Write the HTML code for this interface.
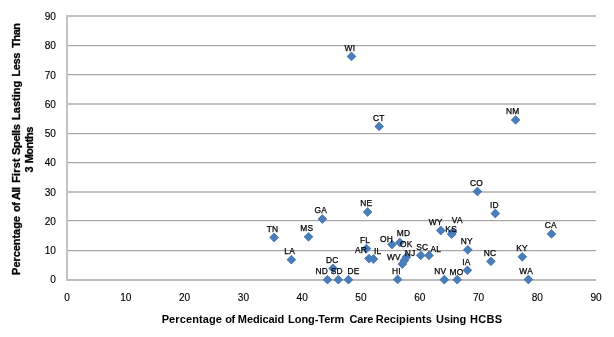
<!DOCTYPE html><html><head><meta charset="utf-8"><style>html,body{margin:0;padding:0;background:#fff;width:614px;height:337px;overflow:hidden}svg{display:block;will-change:transform;font-family:"Liberation Sans",sans-serif}</style></head><body>
<svg width="614" height="337" viewBox="0 0 614 337">
<rect x="66" y="15" width="530" height="2" fill="#c2c2c2"/>
<rect x="66" y="45" width="530" height="1" fill="#a6a6a6"/>
<rect x="66" y="46" width="530" height="1" fill="#ececec"/>
<rect x="66" y="74" width="530" height="1" fill="#a6a6a6"/>
<rect x="66" y="75" width="530" height="1" fill="#ececec"/>
<rect x="66" y="103" width="530" height="2" fill="#c2c2c2"/>
<rect x="66" y="133" width="530" height="1" fill="#a6a6a6"/>
<rect x="66" y="134" width="530" height="1" fill="#ececec"/>
<rect x="66" y="162" width="530" height="1" fill="#a6a6a6"/>
<rect x="66" y="163" width="530" height="1" fill="#ececec"/>
<rect x="66" y="191" width="530" height="2" fill="#c2c2c2"/>
<rect x="66" y="220" width="530" height="1" fill="#a6a6a6"/>
<rect x="66" y="221" width="530" height="1" fill="#ececec"/>
<rect x="66" y="250" width="530" height="1" fill="#a6a6a6"/>
<rect x="66" y="251" width="530" height="1" fill="#ececec"/>
<rect x="66" y="279" width="530" height="2" fill="#bcbcbc"/>
<rect x="66" y="15" width="2" height="266" fill="#c4c4c4"/>
<text transform="translate(55.9 283.2) scale(0.92 1)" font-size="11" text-anchor="end" fill="#000" stroke="#000" stroke-width="0.15">0</text>
<text transform="translate(55.9 253.8) scale(0.92 1)" font-size="11" text-anchor="end" fill="#000" stroke="#000" stroke-width="0.15">10</text>
<text transform="translate(55.9 225.0) scale(0.92 1)" font-size="11" text-anchor="end" fill="#000" stroke="#000" stroke-width="0.15">20</text>
<text transform="translate(55.9 195.6) scale(0.92 1)" font-size="11" text-anchor="end" fill="#000" stroke="#000" stroke-width="0.15">30</text>
<text transform="translate(55.9 166.3) scale(0.92 1)" font-size="11" text-anchor="end" fill="#000" stroke="#000" stroke-width="0.15">40</text>
<text transform="translate(55.9 136.8) scale(0.92 1)" font-size="11" text-anchor="end" fill="#000" stroke="#000" stroke-width="0.15">50</text>
<text transform="translate(55.9 107.5) scale(0.92 1)" font-size="11" text-anchor="end" fill="#000" stroke="#000" stroke-width="0.15">60</text>
<text transform="translate(55.9 79.0) scale(0.92 1)" font-size="11" text-anchor="end" fill="#000" stroke="#000" stroke-width="0.15">70</text>
<text transform="translate(55.9 49.0) scale(0.92 1)" font-size="11" text-anchor="end" fill="#000" stroke="#000" stroke-width="0.15">80</text>
<text transform="translate(55.9 19.6) scale(0.92 1)" font-size="11" text-anchor="end" fill="#000" stroke="#000" stroke-width="0.15">90</text>
<text transform="translate(67.00 301) scale(0.92 1)" font-size="11" text-anchor="middle" fill="#000" stroke="#000" stroke-width="0.15">0</text>
<text transform="translate(125.79 301) scale(0.92 1)" font-size="11" text-anchor="middle" fill="#000" stroke="#000" stroke-width="0.15">10</text>
<text transform="translate(184.58 301) scale(0.92 1)" font-size="11" text-anchor="middle" fill="#000" stroke="#000" stroke-width="0.15">20</text>
<text transform="translate(243.37 301) scale(0.92 1)" font-size="11" text-anchor="middle" fill="#000" stroke="#000" stroke-width="0.15">30</text>
<text transform="translate(302.16 301) scale(0.92 1)" font-size="11" text-anchor="middle" fill="#000" stroke="#000" stroke-width="0.15">40</text>
<text transform="translate(360.95 301) scale(0.92 1)" font-size="11" text-anchor="middle" fill="#000" stroke="#000" stroke-width="0.15">50</text>
<text transform="translate(419.74 301) scale(0.92 1)" font-size="11" text-anchor="middle" fill="#000" stroke="#000" stroke-width="0.15">60</text>
<text transform="translate(478.53 301) scale(0.92 1)" font-size="11" text-anchor="middle" fill="#000" stroke="#000" stroke-width="0.15">70</text>
<text transform="translate(537.32 301) scale(0.92 1)" font-size="11" text-anchor="middle" fill="#000" stroke="#000" stroke-width="0.15">80</text>
<text transform="translate(596.11 301) scale(0.92 1)" font-size="11" text-anchor="middle" fill="#000" stroke="#000" stroke-width="0.15">90</text>
<path d="M347.10 56.40L351.50 52.00L355.90 56.40L351.50 60.80ZM374.80 126.40L379.20 122.00L383.60 126.40L379.20 130.80ZM511.20 119.90L515.60 115.50L520.00 119.90L515.60 124.30ZM473.00 191.50L477.40 187.10L481.80 191.50L477.40 195.90ZM490.90 213.50L495.30 209.10L499.70 213.50L495.30 217.90ZM363.20 212.00L367.60 207.60L372.00 212.00L367.60 216.40ZM318.00 219.00L322.40 214.60L326.80 219.00L322.40 223.40ZM269.70 237.50L274.10 233.10L278.50 237.50L274.10 241.90ZM304.10 236.80L308.50 232.40L312.90 236.80L308.50 241.20ZM287.00 259.70L291.40 255.30L295.80 259.70L291.40 264.10ZM547.10 233.90L551.50 229.50L555.90 233.90L551.50 238.30ZM436.40 230.50L440.80 226.10L445.20 230.50L440.80 234.90ZM447.20 234.20L451.60 229.80L456.00 234.20L451.60 238.60ZM448.20 232.10L452.60 227.70L457.00 232.10L452.60 236.50ZM463.40 249.80L467.80 245.40L472.20 249.80L467.80 254.20ZM486.50 261.30L490.90 256.90L495.30 261.30L490.90 265.70ZM517.90 256.80L522.30 252.40L526.70 256.80L522.30 261.20ZM524.00 279.50L528.40 275.10L532.80 279.50L528.40 283.90ZM463.00 270.30L467.40 265.90L471.80 270.30L467.40 274.70ZM439.90 279.70L444.30 275.30L448.70 279.70L444.30 284.10ZM452.80 279.70L457.20 275.30L461.60 279.70L457.20 284.10ZM393.20 279.40L397.60 275.00L402.00 279.40L397.60 283.80ZM416.30 255.40L420.70 251.00L425.10 255.40L420.70 259.80ZM424.60 255.40L429.00 251.00L433.40 255.40L429.00 259.80ZM387.60 244.60L392.00 240.20L396.40 244.60L392.00 249.00ZM395.40 242.50L399.80 238.10L404.20 242.50L399.80 246.90ZM397.90 264.10L402.30 259.70L406.70 264.10L402.30 268.50ZM399.90 260.60L404.30 256.20L408.70 260.60L404.30 265.00ZM401.90 257.20L406.30 252.80L410.70 257.20L406.30 261.60ZM362.00 248.60L366.40 244.20L370.80 248.60L366.40 253.00ZM364.60 258.60L369.00 254.20L373.40 258.60L369.00 263.00ZM369.10 259.00L373.50 254.60L377.90 259.00L373.50 263.40ZM328.60 268.30L333.00 263.90L337.40 268.30L333.00 272.70ZM323.10 279.70L327.50 275.30L331.90 279.70L327.50 284.10ZM333.90 279.70L338.30 275.30L342.70 279.70L338.30 284.10ZM344.10 279.70L348.50 275.30L352.90 279.70L348.50 284.10Z" fill="#4271ab" stroke="#4271ab" stroke-width="0.6"/>
<path d="M347.10 56.40L351.50 52.00L355.90 56.40L351.50 60.80ZM374.80 126.40L379.20 122.00L383.60 126.40L379.20 130.80ZM511.20 119.90L515.60 115.50L520.00 119.90L515.60 124.30ZM473.00 191.50L477.40 187.10L481.80 191.50L477.40 195.90ZM490.90 213.50L495.30 209.10L499.70 213.50L495.30 217.90ZM363.20 212.00L367.60 207.60L372.00 212.00L367.60 216.40ZM318.00 219.00L322.40 214.60L326.80 219.00L322.40 223.40ZM269.70 237.50L274.10 233.10L278.50 237.50L274.10 241.90ZM304.10 236.80L308.50 232.40L312.90 236.80L308.50 241.20ZM287.00 259.70L291.40 255.30L295.80 259.70L291.40 264.10ZM547.10 233.90L551.50 229.50L555.90 233.90L551.50 238.30ZM436.40 230.50L440.80 226.10L445.20 230.50L440.80 234.90ZM447.20 234.20L451.60 229.80L456.00 234.20L451.60 238.60ZM448.20 232.10L452.60 227.70L457.00 232.10L452.60 236.50ZM463.40 249.80L467.80 245.40L472.20 249.80L467.80 254.20ZM486.50 261.30L490.90 256.90L495.30 261.30L490.90 265.70ZM517.90 256.80L522.30 252.40L526.70 256.80L522.30 261.20ZM524.00 279.50L528.40 275.10L532.80 279.50L528.40 283.90ZM463.00 270.30L467.40 265.90L471.80 270.30L467.40 274.70ZM439.90 279.70L444.30 275.30L448.70 279.70L444.30 284.10ZM452.80 279.70L457.20 275.30L461.60 279.70L457.20 284.10ZM393.20 279.40L397.60 275.00L402.00 279.40L397.60 283.80ZM416.30 255.40L420.70 251.00L425.10 255.40L420.70 259.80ZM424.60 255.40L429.00 251.00L433.40 255.40L429.00 259.80ZM387.60 244.60L392.00 240.20L396.40 244.60L392.00 249.00ZM395.40 242.50L399.80 238.10L404.20 242.50L399.80 246.90ZM397.90 264.10L402.30 259.70L406.70 264.10L402.30 268.50ZM399.90 260.60L404.30 256.20L408.70 260.60L404.30 265.00ZM401.90 257.20L406.30 252.80L410.70 257.20L406.30 261.60ZM362.00 248.60L366.40 244.20L370.80 248.60L366.40 253.00ZM364.60 258.60L369.00 254.20L373.40 258.60L369.00 263.00ZM369.10 259.00L373.50 254.60L377.90 259.00L373.50 263.40ZM328.60 268.30L333.00 263.90L337.40 268.30L333.00 272.70ZM323.10 279.70L327.50 275.30L331.90 279.70L327.50 284.10ZM333.90 279.70L338.30 275.30L342.70 279.70L338.30 284.10ZM344.10 279.70L348.50 275.30L352.90 279.70L348.50 284.10Z" fill="#4a7ebb"/>
<text x="349.95" y="50.80" font-size="8.4" letter-spacing="0.25" fill="#000" stroke="#000" stroke-width="0.25" font-weight="normal" text-anchor="middle">WI</text>
<text x="378.75" y="120.80" font-size="8.4" letter-spacing="0.25" fill="#000" stroke="#000" stroke-width="0.25" font-weight="normal" text-anchor="middle">CT</text>
<text x="512.80" y="113.80" font-size="8.4" letter-spacing="0.25" fill="#000" stroke="#000" stroke-width="0.25" font-weight="normal" text-anchor="middle">NM</text>
<text x="476.55" y="185.70" font-size="8.4" letter-spacing="0.25" fill="#000" stroke="#000" stroke-width="0.25" font-weight="normal" text-anchor="middle">CO</text>
<text x="494.40" y="207.70" font-size="8.4" letter-spacing="0.25" fill="#000" stroke="#000" stroke-width="0.25" font-weight="normal" text-anchor="middle">ID</text>
<text x="366.20" y="206.00" font-size="8.4" letter-spacing="0.25" fill="#000" stroke="#000" stroke-width="0.25" font-weight="normal" text-anchor="middle">NE</text>
<text x="320.90" y="213.10" font-size="8.4" letter-spacing="0.25" fill="#000" stroke="#000" stroke-width="0.25" font-weight="normal" text-anchor="middle">GA</text>
<text x="272.55" y="231.80" font-size="8.4" letter-spacing="0.25" fill="#000" stroke="#000" stroke-width="0.25" font-weight="normal" text-anchor="middle">TN</text>
<text x="306.70" y="231.20" font-size="8.4" letter-spacing="0.25" fill="#000" stroke="#000" stroke-width="0.25" font-weight="normal" text-anchor="middle">MS</text>
<text x="289.65" y="254.00" font-size="8.4" letter-spacing="0.25" fill="#000" stroke="#000" stroke-width="0.25" font-weight="normal" text-anchor="middle">LA</text>
<text x="550.80" y="227.90" font-size="8.4" letter-spacing="0.25" fill="#000" stroke="#000" stroke-width="0.25" font-weight="normal" text-anchor="middle">CA</text>
<text x="435.70" y="224.60" font-size="8.4" letter-spacing="0.25" fill="#000" stroke="#000" stroke-width="0.25" font-weight="normal" text-anchor="middle">WY</text>
<text x="457.40" y="223.00" font-size="8.4" letter-spacing="0.25" fill="#000" stroke="#000" stroke-width="0.25" font-weight="normal" text-anchor="middle">VA</text>
<text x="451.20" y="231.80" font-size="8.4" letter-spacing="0.25" fill="#000" stroke="#000" stroke-width="0.25" font-weight="normal" text-anchor="middle">KS</text>
<text x="466.70" y="244.00" font-size="8.4" letter-spacing="0.25" fill="#000" stroke="#000" stroke-width="0.25" font-weight="normal" text-anchor="middle">NY</text>
<text x="490.00" y="256.00" font-size="8.4" letter-spacing="0.25" fill="#000" stroke="#000" stroke-width="0.25" font-weight="normal" text-anchor="middle">NC</text>
<text x="522.10" y="250.70" font-size="8.4" letter-spacing="0.25" fill="#000" stroke="#000" stroke-width="0.25" font-weight="normal" text-anchor="middle">KY</text>
<text x="526.15" y="273.80" font-size="8.4" letter-spacing="0.25" fill="#000" stroke="#000" stroke-width="0.25" font-weight="normal" text-anchor="middle">WA</text>
<text x="466.45" y="264.90" font-size="8.4" letter-spacing="0.25" fill="#000" stroke="#000" stroke-width="0.25" font-weight="normal" text-anchor="middle">IA</text>
<text x="440.35" y="274.00" font-size="8.4" letter-spacing="0.25" fill="#000" stroke="#000" stroke-width="0.25" font-weight="normal" text-anchor="middle">NV</text>
<text x="456.45" y="274.80" font-size="8.4" letter-spacing="0.25" fill="#000" stroke="#000" stroke-width="0.25" font-weight="normal" text-anchor="middle">MO</text>
<text x="396.45" y="273.90" font-size="8.4" letter-spacing="0.25" fill="#000" stroke="#000" stroke-width="0.25" font-weight="normal" text-anchor="middle">HI</text>
<text x="422.25" y="249.90" font-size="8.4" letter-spacing="0.25" fill="#000" stroke="#000" stroke-width="0.25" font-weight="normal" text-anchor="middle">SC</text>
<text x="435.80" y="251.50" font-size="8.4" letter-spacing="0.25" fill="#000" stroke="#000" stroke-width="0.25" font-weight="normal" text-anchor="middle">AL</text>
<text x="386.45" y="242.20" font-size="8.4" letter-spacing="0.25" fill="#000" stroke="#000" stroke-width="0.25" font-weight="normal" text-anchor="middle">OH</text>
<text x="403.45" y="235.90" font-size="8.4" letter-spacing="0.25" fill="#000" stroke="#000" stroke-width="0.25" font-weight="normal" text-anchor="middle">MD</text>
<text x="406.20" y="247.30" font-size="8.4" letter-spacing="0.25" fill="#000" stroke="#000" stroke-width="0.25" font-weight="normal" text-anchor="middle">OK</text>
<text x="410.10" y="256.20" font-size="8.4" letter-spacing="0.25" fill="#000" stroke="#000" stroke-width="0.25" font-weight="normal" text-anchor="middle">NJ</text>
<text x="393.95" y="259.90" font-size="8.4" letter-spacing="0.25" fill="#000" stroke="#000" stroke-width="0.25" font-weight="normal" text-anchor="middle">WV</text>
<text x="365.15" y="242.70" font-size="8.4" letter-spacing="0.25" fill="#000" stroke="#000" stroke-width="0.25" font-weight="normal" text-anchor="middle">FL</text>
<text x="360.95" y="253.00" font-size="8.4" letter-spacing="0.25" fill="#000" stroke="#000" stroke-width="0.25" font-weight="normal" text-anchor="middle">AR</text>
<text x="377.75" y="254.10" font-size="8.4" letter-spacing="0.25" fill="#000" stroke="#000" stroke-width="0.25" font-weight="normal" text-anchor="middle">IL</text>
<text x="332.25" y="262.80" font-size="8.4" letter-spacing="0.25" fill="#000" stroke="#000" stroke-width="0.25" font-weight="normal" text-anchor="middle">DC</text>
<text x="321.80" y="274.00" font-size="8.4" letter-spacing="0.25" fill="#000" stroke="#000" stroke-width="0.25" font-weight="normal" text-anchor="middle">ND</text>
<text x="336.85" y="274.00" font-size="8.4" letter-spacing="0.25" fill="#000" stroke="#000" stroke-width="0.25" font-weight="normal" text-anchor="middle">SD</text>
<text x="353.60" y="274.00" font-size="8.4" letter-spacing="0.25" fill="#000" stroke="#000" stroke-width="0.25" font-weight="normal" text-anchor="middle">DE</text>
<text x="161.70" y="323" font-size="11" font-weight="bold" fill="#000" letter-spacing="0.1">Percentage</text>
<text x="225.30" y="323" font-size="11" font-weight="bold" fill="#000" letter-spacing="-0.6">of</text>
<text x="237.85" y="323" font-size="11" font-weight="bold" fill="#000" letter-spacing="-0.1">Medicaid</text>
<text x="288.05" y="323" font-size="11" font-weight="bold" fill="#000" letter-spacing="-0.05">Long-Term</text>
<text x="349.45" y="323" font-size="11" font-weight="bold" fill="#000" letter-spacing="-0.15">Care</text>
<text x="375.70" y="323" font-size="11" font-weight="bold" fill="#000" letter-spacing="0.05">Recipients</text>
<text x="436.05" y="323" font-size="11" font-weight="bold" fill="#000" letter-spacing="-0.1">Using</text>
<text x="470.05" y="323" font-size="11" font-weight="bold" fill="#000" letter-spacing="0.3">HCBS</text>
<text transform="translate(19.8 274.90) rotate(-90)" font-size="11" font-weight="bold" fill="#000" stroke="#000" stroke-width="0.3" letter-spacing="-0.05">Percentage</text>
<text transform="translate(19.8 211.88) rotate(-90)" font-size="11" font-weight="bold" fill="#000" stroke="#000" stroke-width="0.3" letter-spacing="-0.5">of</text>
<text transform="translate(19.8 199.92) rotate(-90)" font-size="11" font-weight="bold" fill="#000" stroke="#000" stroke-width="0.3" letter-spacing="-0.5">All</text>
<text transform="translate(19.8 182.82) rotate(-90)" font-size="11" font-weight="bold" fill="#000" stroke="#000" stroke-width="0.3" letter-spacing="0.15">First</text>
<text transform="translate(19.8 155.00) rotate(-90)" font-size="11" font-weight="bold" fill="#000" stroke="#000" stroke-width="0.3" letter-spacing="-0.3">Spells</text>
<text transform="translate(19.8 119.93) rotate(-90)" font-size="11" font-weight="bold" fill="#000" stroke="#000" stroke-width="0.3" letter-spacing="0.0">Lasting</text>
<text transform="translate(19.8 76.55) rotate(-90)" font-size="11" font-weight="bold" fill="#000" stroke="#000" stroke-width="0.3" letter-spacing="-0.4">Less</text>
<text transform="translate(19.8 47.75) rotate(-90)" font-size="11" font-weight="bold" fill="#000" stroke="#000" stroke-width="0.3" letter-spacing="-0.5">Than</text>
<text transform="translate(32.9 172.48) rotate(-90)" font-size="11" font-weight="bold" fill="#000" stroke="#000" stroke-width="0.3" letter-spacing="-0.5">3</text>
<text transform="translate(32.9 163.35) rotate(-90)" font-size="11" font-weight="bold" fill="#000" stroke="#000" stroke-width="0.3" letter-spacing="-0.5">Months</text>
</svg></body></html>
